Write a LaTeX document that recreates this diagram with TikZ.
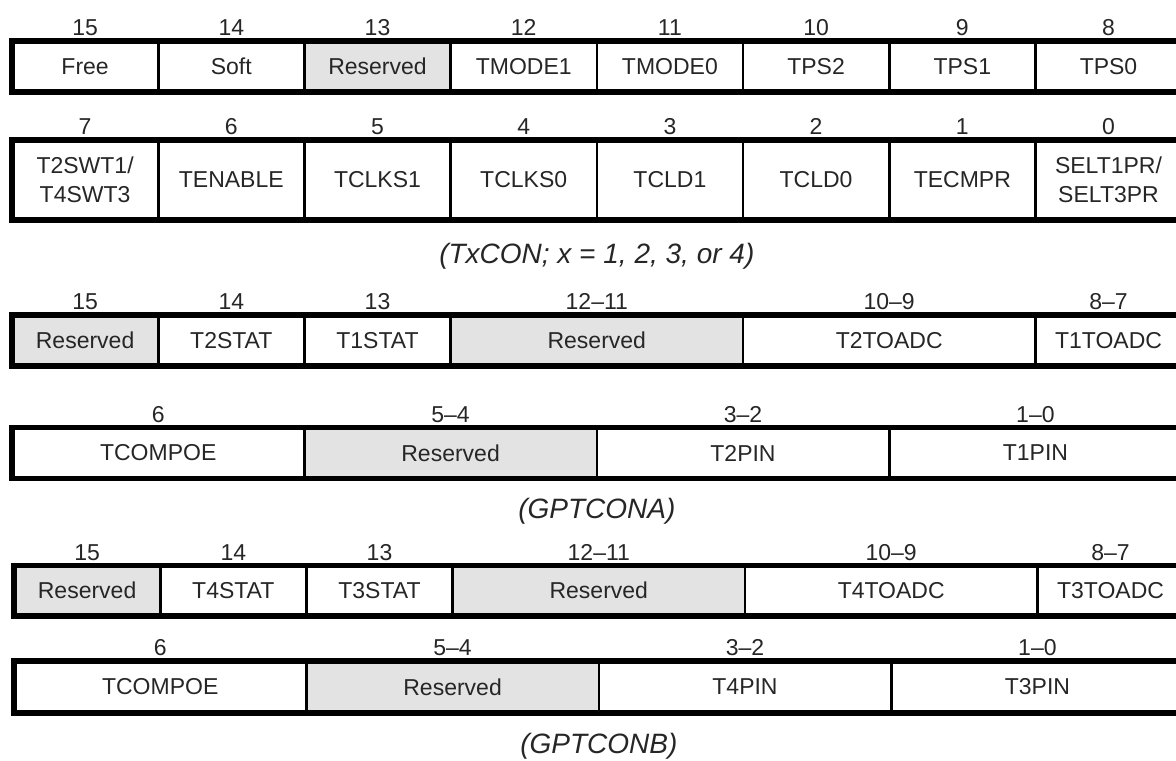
\documentclass[tikz,border=0pt]{standalone}
\usepackage{fontspec}
\setmainfont{Liberation Sans}
\usetikzlibrary{positioning}

\begin{document}
\begin{tikzpicture}[
    x=0.5pt, y=-0.5pt,
    node distance=0pt,
    bit/.style={rectangle, draw=black, line width=1.3pt, inner sep=0pt, outer sep=0pt, minimum width=73.1pt, minimum height=\cellh, align=center, text=black!85, font=\fontsize{11.5}{14.5}\selectfont},
    bits/.style={bit, minimum width=146.2pt},
    resv/.style={fill=black!11},
    bitno/.style={above=2.6pt of #1, inner sep=0pt, outer sep=0pt, text height=8.2pt, text depth=0pt, text=black!85, font=\fontsize{11.5}{14}\selectfont},
    regframe/.style={draw=black, line width=2.6pt},
    regname/.style={anchor=base, inner sep=0pt, text=black!85, font=\fontsize{14}{16}\selectfont\itshape}
]
    \useasboundingbox (0,0) rectangle (1176,760);
    \clip (0,0) rectangle (1176,760);

    % TxCON, bits 15-8
    \def\cellh{25.5pt}
    \node [bit, anchor=north west] (con15) at (12,41) {Free};
    \node [bit, right=of con15] (con14) {Soft};
    \node [bit, resv, right=of con14] (con13) {Reserved};
    \node [bit, right=of con13] (con12) {TMODE1};
    \node [bit, right=of con12] (con11) {TMODE0};
    \node [bit, right=of con11] (con10) {TPS2};
    \node [bit, right=of con10] (con9) {TPS1};
    \node [bit, right=of con9] (con8) {TPS0};
    \draw [regframe] (con15.north west) rectangle (con8.south east);

    % TxCON, bits 7-0
    \def\cellh{40pt}
    \node [bit, anchor=north west] (con7) at (12,140) {T2SWT1/\\T4SWT3};
    \node [bit, right=of con7] (con6) {TENABLE};
    \node [bit, right=of con6] (con5) {TCLKS1};
    \node [bit, right=of con5] (con4) {TCLKS0};
    \node [bit, right=of con4] (con3) {TCLD1};
    \node [bit, right=of con3] (con2) {TCLD0};
    \node [bit, right=of con2] (con1) {TECMPR};
    \node [bit, right=of con1] (con0) {SELT1PR/\\SELT3PR};
    \draw [regframe] (con7.north west) rectangle (con0.south east);
    \node [regname] (capcon) at ([yshift=-21.5pt]con4.south east) {(TxCON; x = 1, 2, 3, or 4)};

    % GPTCONA
    \def\cellh{25.5pt}
    \node [bit, resv, anchor=north west] (gpa15) at (12,315) {Reserved};
    \node [bit, right=of gpa15] (gpa14) {T2STAT};
    \node [bit, right=of gpa14] (gpa13) {T1STAT};
    \node [bits, resv, right=of gpa13] (gpa1211) {Reserved};
    \node [bits, right=of gpa1211] (gpa109) {T2TOADC};
    \node [bit, right=of gpa109] (gpa87) {T1TOADC};
    \draw [regframe] (gpa15.north west) rectangle (gpa87.south east);

    \node [bits, anchor=north west] (gpa6) at (12,427.5) {TCOMPOE};
    \node [bits, resv, right=of gpa6] (gpa54) {Reserved};
    \node [bits, right=of gpa54] (gpa32) {T2PIN};
    \node [bits, right=of gpa32] (gpa10) {T1PIN};
    \draw [regframe] (gpa6.north west) rectangle (gpa10.south east);
    \node [regname] (capgpa) at ([yshift=-19.75pt]gpa54.south east) {(GPTCONA)};

    % GPTCONB
    \def\cellh{25.25pt}
    \node [bit, resv, anchor=north west] (gpb15) at (14,565.5) {Reserved};
    \node [bit, right=of gpb15] (gpb14) {T4STAT};
    \node [bit, right=of gpb14] (gpb13) {T3STAT};
    \node [bits, resv, right=of gpb13] (gpb1211) {Reserved};
    \node [bits, right=of gpb1211] (gpb109) {T4TOADC};
    \node [bit, right=of gpb109] (gpb87) {T3TOADC};
    \draw [regframe] (gpb15.north west) rectangle (gpb87.south east);

    \def\cellh{26pt}
    \node [bits, anchor=north west] (gpb6) at (14,661) {TCOMPOE};
    \node [bits, resv, right=of gpb6] (gpb54) {Reserved};
    \node [bits, right=of gpb54] (gpb32) {T4PIN};
    \node [bits, right=of gpb32] (gpb10) {T3PIN};
    \draw [regframe] (gpb6.north west) rectangle (gpb10.south east);
    \node [regname] (capgpb) at ([yshift=-20pt]gpb54.south east) {(GPTCONB)};

    % bit numbers
    \foreach \c/\n in {con15/15, con14/14, con13/13, con12/12, con11/11, con10/10, con9/9, con8/8,
                       con7/7, con6/6, con5/5, con4/4, con3/3, con2/2, con1/1, con0/0,
                       gpa15/15, gpa14/14, gpa13/13, gpa1211/12--11, gpa109/10--9, gpa87/8--7,
                       gpa6/6, gpa54/5--4, gpa32/3--2, gpa10/1--0,
                       gpb15/15, gpb14/14, gpb13/13, gpb1211/12--11, gpb109/10--9, gpb87/8--7,
                       gpb6/6, gpb54/5--4, gpb32/3--2, gpb10/1--0}
        \node [bitno=\c] (n\c) {\n};
\end{tikzpicture}
\end{document}
